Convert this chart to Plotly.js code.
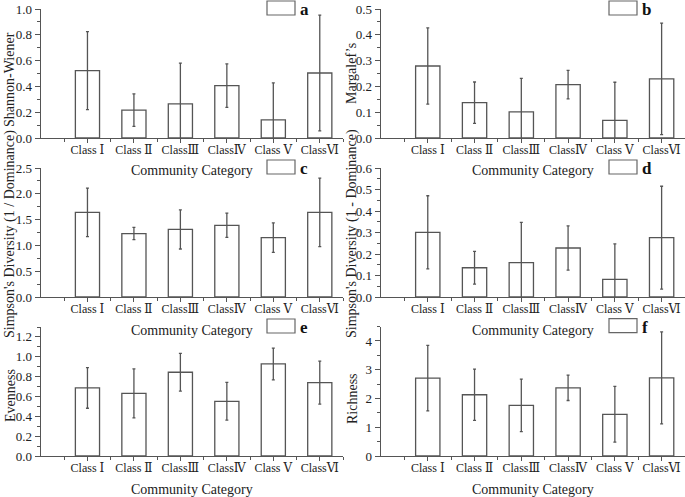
<!DOCTYPE html>
<html>
<head>
<meta charset="utf-8">
<script src="https://cdn.plot.ly/plotly-3.0.1.min.js"></script>
<style>
  html, body { margin: 0; padding: 0; background: #fff; }
  #chart { width: 685px; height: 497px; }
</style>
</head>
<body>
<div id="chart"></div>
<script>
// Categories shared by all six panels
const categories = ['Class Ⅰ', 'Class Ⅱ', 'ClassⅢ', 'ClassⅣ', 'Class Ⅴ', 'ClassⅥ'];

// a - Shannon-Wiener
const shannonMean = [0.522, 0.216, 0.264, 0.406, 0.140, 0.504];
const shannonErr  = [0.302, 0.126, 0.317, 0.168, 0.287, 0.448];

// b - Margalef's
const margalefMean = [0.279, 0.137, 0.101, 0.207, 0.068, 0.229];
const margalefErr  = [0.148, 0.080, 0.130, 0.055, 0.148, 0.216];

// c - Simpson's (1 / Dominance)
const simpsonInvMean = [1.64, 1.23, 1.31, 1.39, 1.15, 1.64];
const simpsonInvErr  = [0.47, 0.12, 0.38, 0.235, 0.285, 0.665];

// d - Simpson's (1 - Dominance)
const simpsonDiffMean = [0.301, 0.136, 0.160, 0.228, 0.082, 0.276];
const simpsonDiffErr  = [0.170, 0.076, 0.187, 0.103, 0.165, 0.239];

// e - Evenness
const evennessMean = [0.686, 0.632, 0.844, 0.551, 0.928, 0.739];
const evennessErr  = [0.205, 0.247, 0.190, 0.190, 0.160, 0.217];

// f - Richness
const richnessMean = [2.71, 2.13, 1.76, 2.37, 1.45, 2.72];
const richnessErr  = [1.14, 0.89, 0.915, 0.44, 0.97, 1.60];

const W = 685, H = 497;
const FONT = "'Liberation Serif', 'Times New Roman', 'DejaVu Serif', serif";
const INK = '#222';
const LINE = '#555';

// pixel -> paper helpers
const px = x => x / W;
const py = y => 1 - y / H;

const panels = [
  { tag: 'a', mean: shannonMean, err: shannonErr, xs: [41, 343], ys: [138, 9], range: [0, 1.0], dtick: 0.2, minor: 0.1, fmt: '.1f', ytitle: 'Shannon-Wiener', tx: 10, ty: 80 },
  { tag: 'b', mean: margalefMean, err: margalefErr, xs: [381, 685], ys: [138, 9], range: [0, 0.5], dtick: 0.1, minor: 0.05, fmt: '.1f', ytitle: 'Margalef’s', tx: 352, ty: 74 },
  { tag: 'c', mean: simpsonInvMean, err: simpsonInvErr, xs: [41, 343], ys: [297, 168], range: [0, 2.5], dtick: 0.5, minor: 0.25, fmt: '.1f', ytitle: "Simpson's Diversity (1 / Dominance)", tx: 10, ty: 234 },
  { tag: 'd', mean: simpsonDiffMean, err: simpsonDiffErr, xs: [381, 685], ys: [297, 168], range: [0, 0.6], dtick: 0.1, minor: 0.05, fmt: '.1f', ytitle: "Simpson's Diversity (1 - Dominance)", tx: 352, ty: 234 },
  { tag: 'e', mean: evennessMean, err: evennessErr, xs: [41, 343], ys: [456, 327], range: [0, 1.3], dtick: 0.2, minor: 0.1, fmt: '.1f', ytitle: 'Evenness', tx: 10, ty: 396 },
  { tag: 'f', mean: richnessMean, err: richnessErr, xs: [381, 685], ys: [456, 326.6], range: [0, 4.5], dtick: 1, minor: 0.5, fmt: 'd', ytitle: 'Richness', tx: 352, ty: 399 }
];

const idx = categories.map((_, i) => i);
const traces = [];
const layout = {
  width: W, height: H,
  margin: { t: 0, b: 0, l: 0, r: 0 },
  paper_bgcolor: '#fff',
  plot_bgcolor: 'rgba(0,0,0,0)',
  showlegend: false,
  font: { family: FONT, color: INK },
  annotations: [],
  shapes: []
};

panels.forEach((p, i) => {
  const n = i === 0 ? '' : String(i + 1);

  traces.push({
    type: 'bar',
    x: idx,
    y: p.mean,
    xaxis: 'x' + n,
    yaxis: 'y' + n,
    width: 0.52,
    marker: { color: '#fff', line: { color: LINE, width: 1.3 } },
    error_y: { type: 'data', array: p.err, visible: true, color: LINE, thickness: 1.3, width: 1.5 },
    hoverinfo: 'skip'
  });

  layout['xaxis' + n] = {
    domain: [px(p.xs[0]), px(p.xs[1])],
    anchor: 'y' + n,
    type: 'linear',
    range: [-1, 5.5],
    tickmode: 'array',
    tickvals: idx,
    ticktext: categories,
    ticks: 'outside', ticklen: 4, tickwidth: 1, tickcolor: LINE,
    ticklabelstandoff: -4,
    minor: { ticks: 'outside', tickmode: 'linear', tick0: -0.5, dtick: 1, ticklen: 3, tickcolor: LINE },
    showline: true, linecolor: LINE, linewidth: 1.3,
    showgrid: false, zeroline: false,
    tickfont: { family: FONT, size: 12, color: INK }
  };

  layout['yaxis' + n] = {
    domain: [py(p.ys[0]), py(p.ys[1])],
    anchor: 'x' + n,
    range: p.range,
    dtick: p.dtick,
    tick0: 0,
    tickformat: p.fmt,
    ticks: 'outside', ticklen: 5, tickwidth: 1, tickcolor: LINE,
    minor: { ticks: 'outside', dtick: p.minor, ticklen: 3, tickcolor: LINE },
    showline: true, linecolor: LINE, linewidth: 1.3,
    showgrid: false, zeroline: false,
    tickfont: { family: FONT, size: 13, color: INK }
  };

  // x title
  layout.annotations.push({
    xref: 'paper', yref: 'paper',
    x: px((p.xs[0] + p.xs[1]) / 2), y: py(p.ys[0] + 33),
    xanchor: 'center', yanchor: 'middle',
    text: 'Community Category', showarrow: false,
    font: { family: FONT, size: 14, color: INK }
  });

  // y title
  layout.annotations.push({
    xref: 'paper', yref: 'paper',
    x: px(p.tx), y: py(p.ty),
    xanchor: 'center', yanchor: 'middle',
    textangle: -90,
    text: p.ytitle, showarrow: false,
    font: { family: FONT, size: 14, color: INK }
  });

  // legend box and panel letter
  const bx1 = p.xs[1] - 48, bx0 = bx1 - 28;
  const by0 = p.ys[1] - 8, by1 = by0 + 14;
  layout.shapes.push({
    type: 'rect', xref: 'paper', yref: 'paper',
    x0: px(bx0), x1: px(bx1), y0: py(by1), y1: py(by0),
    fillcolor: '#fff', line: { color: '#666', width: 1.2 }
  });
  layout.annotations.push({
    xref: 'paper', yref: 'paper',
    x: px(bx1 + 3), y: py((by0 + by1) / 2 + 1.5),
    xanchor: 'left', yanchor: 'middle',
    text: '<b>' + p.tag + '</b>', showarrow: false,
    font: { family: FONT, size: 17, color: '#111' }
  });
});

Plotly.newPlot('chart', traces, layout, { staticPlot: true });
</script>
</body>
</html>
